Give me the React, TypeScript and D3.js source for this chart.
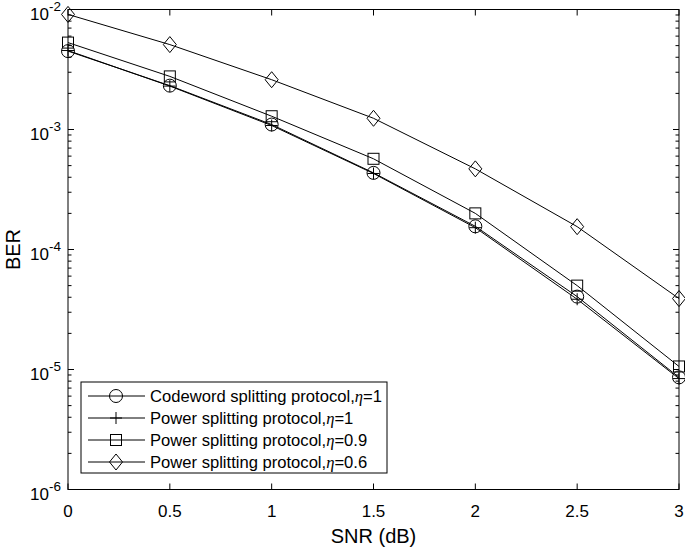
import React from "react";
import * as d3 from "d3";

const snr = [0, 0.5, 1, 1.5, 2, 2.5, 3];
const codewordEta1 = [4.5e-3, 2.32e-3, 1.1e-3, 4.35e-4, 1.56e-4, 4.05e-5, 8.6e-6];
const powerEta1 = [4.55e-3, 2.3e-3, 1.08e-3, 4.3e-4, 1.52e-4, 3.85e-5, 8.4e-6];
const powerEta09 = [5.3e-3, 2.77e-3, 1.29e-3, 5.7e-4, 2.0e-4, 5.0e-5, 1.06e-5];
const powerEta06 = [9.1e-3, 5.1e-3, 2.6e-3, 1.24e-3, 4.7e-4, 1.55e-4, 3.9e-5];
const xTicks = [0, 0.5, 1, 1.5, 2, 2.5, 3];
const yExps = [-2, -3, -4, -5, -6];
const legendPrefixes = [
  "Codeword splitting protocol,",
  "Power splitting protocol,",
  "Power splitting protocol,",
  "Power splitting protocol,",
];
const legendSuffixes = ["=1", "=1", "=0.9", "=0.6"];
const markers = ["circle", "plus", "square", "diamond"];

const W = 685, H = 549;
const L = 68, R = 679, T = 9.5, B = 489.5;

function Marker({ type, x, y }: { type: string; x: number; y: number }) {
  const st = { fill: "none", stroke: "#000", strokeWidth: 1 };
  if (type === "circle") return <circle cx={x} cy={y} r={6.5} {...st} />;
  if (type === "plus")
    return <path d={`M${x - 6},${y}H${x + 6}M${x},${y - 6}V${y + 6}`} {...st} />;
  if (type === "square") return <rect x={x - 5.5} y={y - 5.5} width={11} height={11} {...st} />;
  return <path d={`M${x},${y - 8}L${x + 6.5},${y}L${x},${y + 8}L${x - 6.5},${y}Z`} {...st} />;
}

export default function App() {
  const x = d3.scaleLinear().domain([0, 3]).range([L, R]);
  const y = d3.scaleLog().domain([1e-6, 1e-2]).range([B, T]);
  const series = [codewordEta1, powerEta1, powerEta09, powerEta06];
  const line = d3
    .line<number>()
    .x((_, i) => x(snr[i]))
    .y((d) => y(d));
  const minor: number[] = [];
  for (let e = -6; e < -2; e++) for (let m = 2; m <= 9; m++) minor.push(m * Math.pow(10, e));
  const font = "Arial, 'Liberation Sans', sans-serif";
  const lgX = 81, lgY = 382, lgW = 306, lgH = 91;
  return (
    <svg width={W} height={H} style={{ position: "absolute", left: 0, top: 0 }} fontFamily={font}>
      <rect width={W} height={H} fill="#fff" />
      <rect x={L} y={T} width={R - L} height={B - T} fill="none" stroke="#000" strokeWidth={1} />
      {xTicks.map((t) => (
        <g key={"x" + t}>
          <line x1={x(t)} x2={x(t)} y1={B} y2={B - 6} stroke="#000" />
          <line x1={x(t)} x2={x(t)} y1={T} y2={T + 6} stroke="#000" />
          <text x={x(t)} y={517} fontSize={17} textAnchor="middle">{t}</text>
        </g>
      ))}
      {yExps.map((e) => (
        <g key={"y" + e}>
          <line x1={L} x2={L + 6} y1={y(Math.pow(10, e))} y2={y(Math.pow(10, e))} stroke="#000" />
          <line x1={R} x2={R - 6} y1={y(Math.pow(10, e))} y2={y(Math.pow(10, e))} stroke="#000" />
          <text x={61} y={y(Math.pow(10, e)) + 10} fontSize={17} textAnchor="end">
            10
            <tspan dy={-9} fontSize={13.5}>{e}</tspan>
          </text>
        </g>
      ))}
      {minor.map((v, i) => (
        <g key={"m" + i}>
          <line x1={L} x2={L + 3.5} y1={y(v)} y2={y(v)} stroke="#000" />
          <line x1={R} x2={R - 3.5} y1={y(v)} y2={y(v)} stroke="#000" />
        </g>
      ))}
      <text x={(L + R) / 2} y={543} fontSize={20} textAnchor="middle">SNR (dB)</text>
      <text transform={`translate(20,${(T + B) / 2}) rotate(-90)`} fontSize={20} textAnchor="middle">BER</text>
      {series.map((s, si) => (
        <g key={"s" + si}>
          <path d={line(s) || ""} fill="none" stroke="#000" strokeWidth={1} />
          {s.map((v, i) => (
            <Marker key={i} type={markers[si]} x={x(snr[i])} y={y(v)} />
          ))}
        </g>
      ))}
      <rect x={lgX} y={lgY} width={lgW} height={lgH} fill="#fff" stroke="#000" strokeWidth={1} />
      {legendPrefixes.map((p, i) => {
        const ry = 396 + i * 22;
        return (
          <g key={"l" + i}>
            <line x1={88} x2={145} y1={ry} y2={ry} stroke="#000" />
            <Marker type={markers[i]} x={116} y={ry} />
            <text x={150} y={ry + 6} fontSize={16.6}>
              {p}
              <tspan fontFamily="'Liberation Serif', serif" fontStyle="italic">η</tspan>
              {legendSuffixes[i]}
            </text>
          </g>
        );
      })}
    </svg>
  );
}
